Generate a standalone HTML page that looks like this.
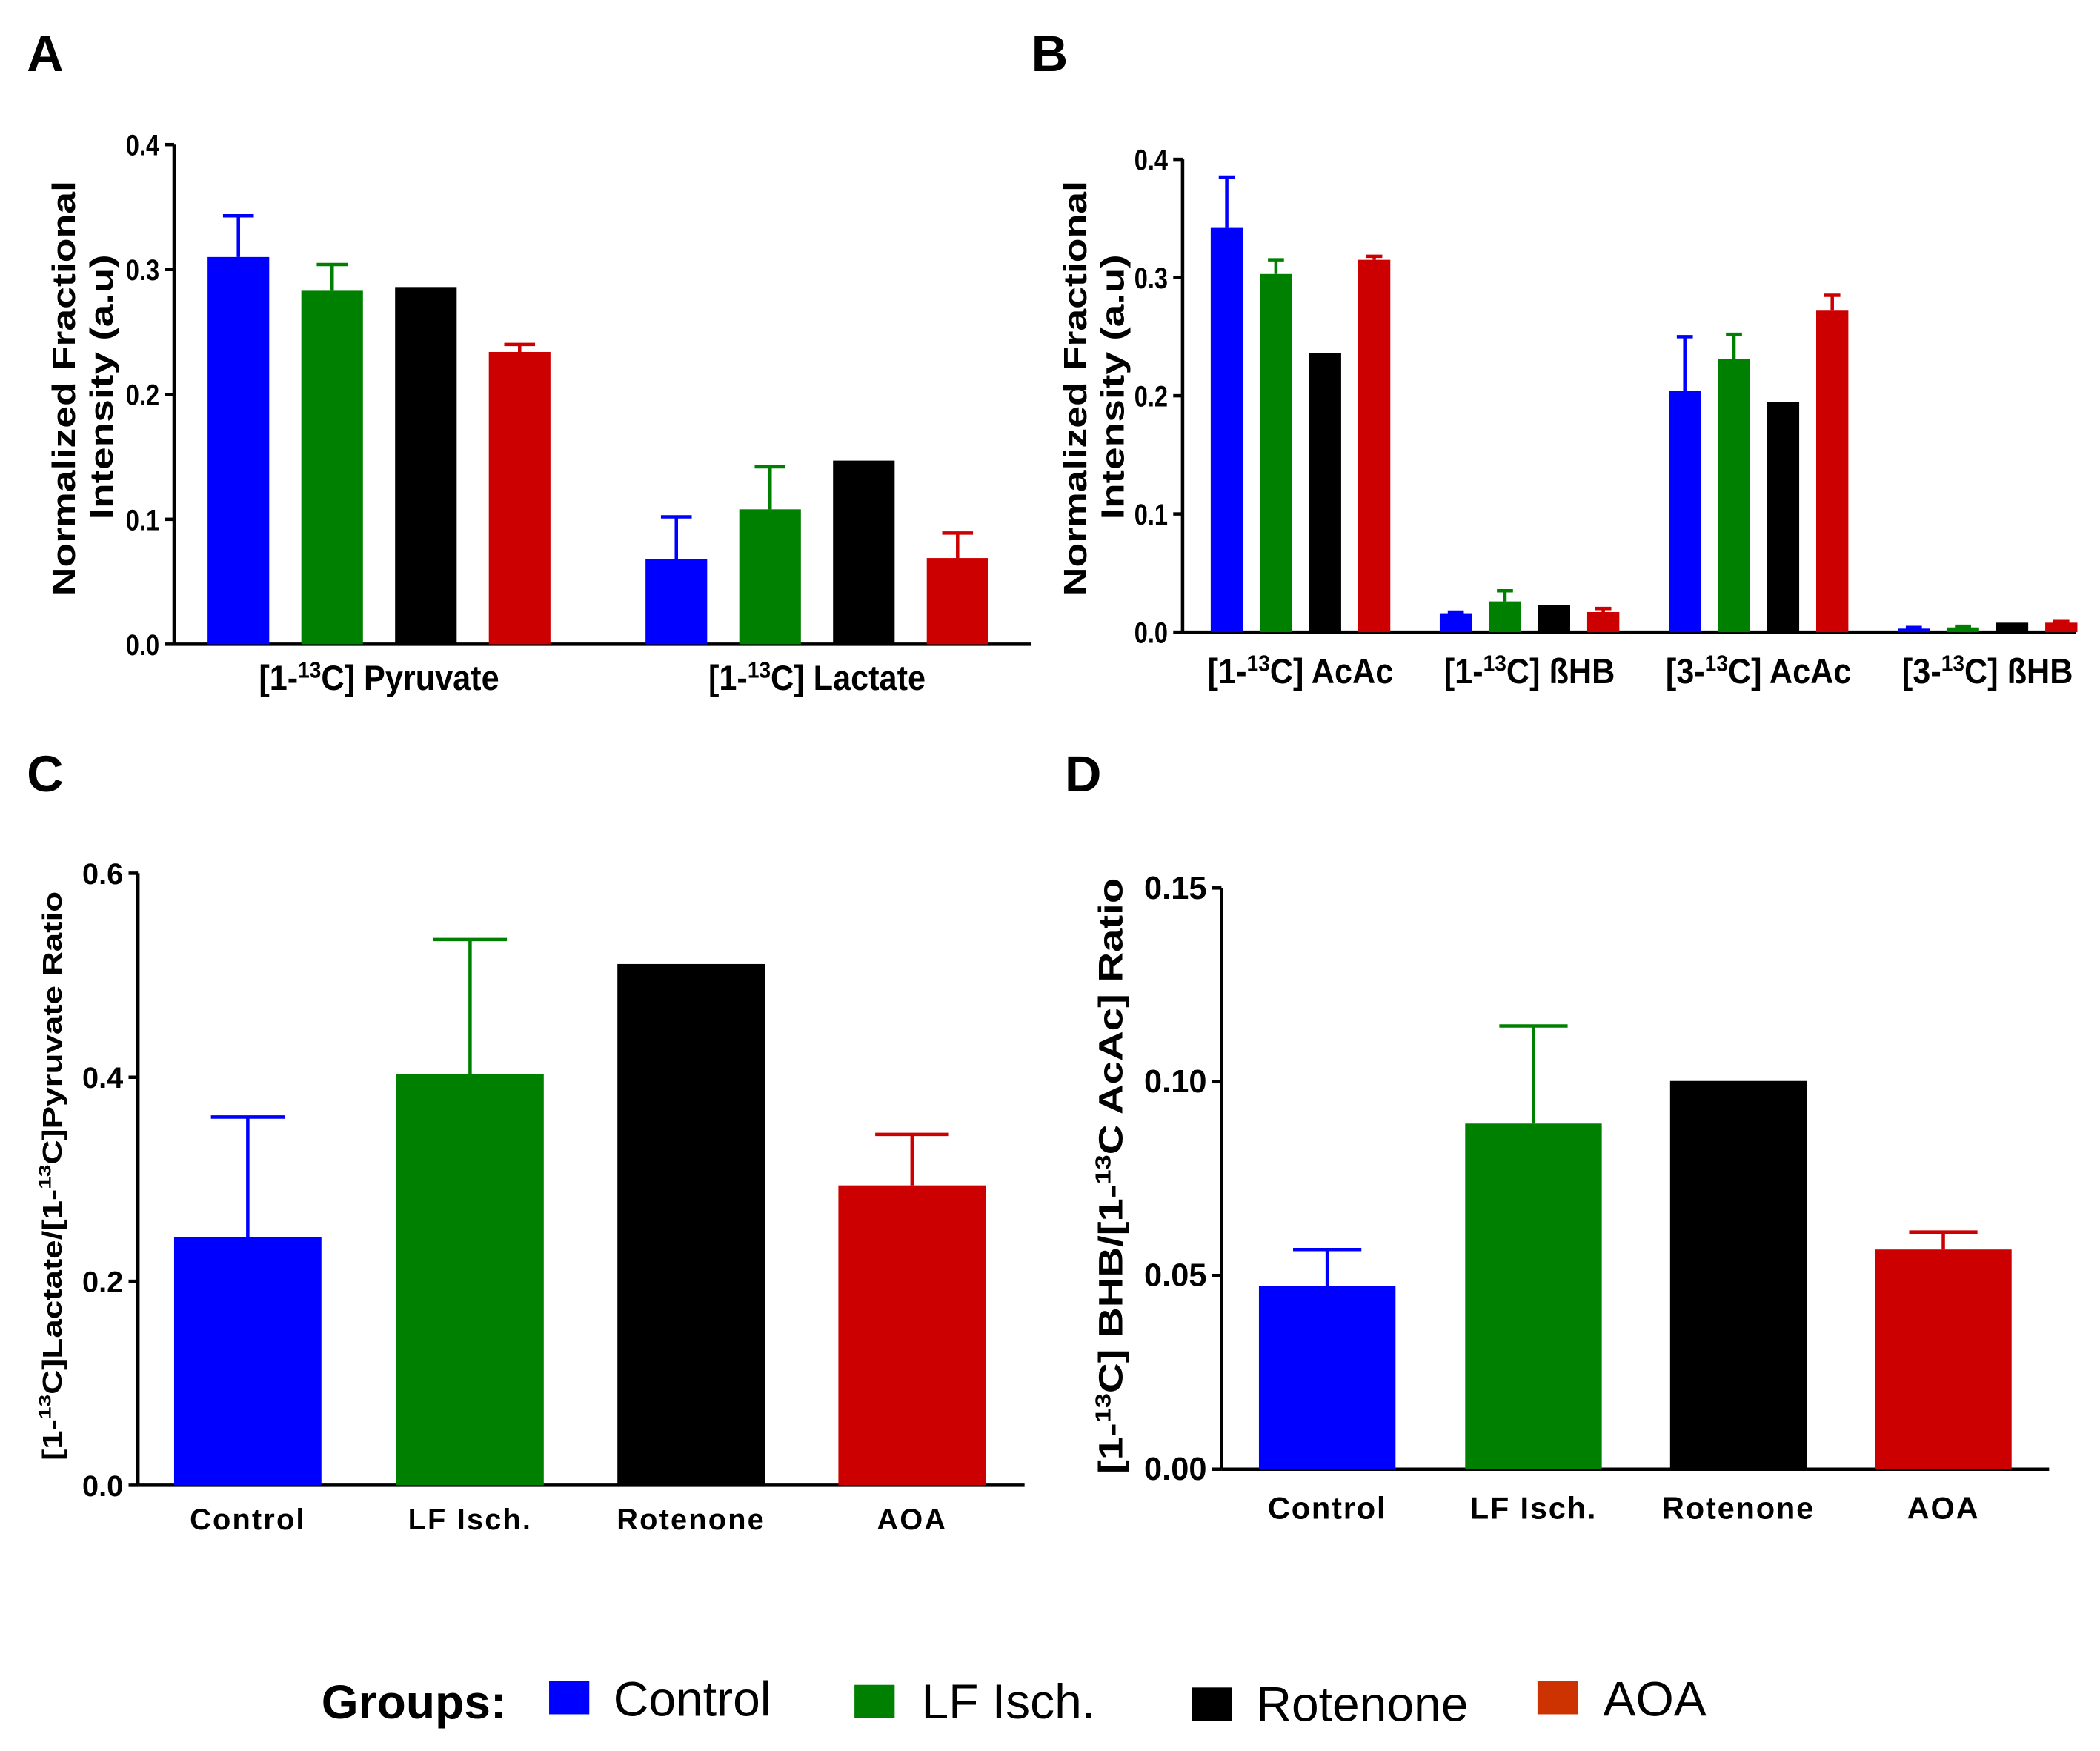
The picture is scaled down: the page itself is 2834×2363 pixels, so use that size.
<!DOCTYPE html>
<html><head><meta charset="utf-8"><style>
html,body{margin:0;padding:0;background:#fff;}
svg{display:block;font-family:"Liberation Sans",Arial,sans-serif;}
</style></head><body>
<svg id="fig" width="2834" height="2363" viewBox="0 0 1568 1307.4" preserveAspectRatio="none" xmlns="http://www.w3.org/2000/svg">
<g font-weight="bold" font-size="38">
<text x="20" y="53">A</text>
<text x="770" y="53">B</text>
<text x="20" y="591">C</text>
<text x="795" y="591">D</text>
</g>
<g font-weight="bold" font-size="24">
<text transform="translate(56,290) rotate(-90)" text-anchor="middle" textLength="310" lengthAdjust="spacingAndGlyphs">Normalized Fractional</text>
<text transform="translate(84,289) rotate(-90)" text-anchor="middle" textLength="198" lengthAdjust="spacingAndGlyphs">Intensity (a.u)</text>
<text transform="translate(811,290) rotate(-90)" text-anchor="middle" textLength="310" lengthAdjust="spacingAndGlyphs">Normalized Fractional</text>
<text transform="translate(839,289) rotate(-90)" text-anchor="middle" textLength="198" lengthAdjust="spacingAndGlyphs">Intensity (a.u)</text>
<text transform="translate(46,878) rotate(-90)" text-anchor="middle" font-size="20" textLength="425" lengthAdjust="spacingAndGlyphs">[1-<tspan dy="-8" font-size="13">13</tspan><tspan dy="8">C]Lactate/[1-</tspan><tspan dy="-8" font-size="13">13</tspan><tspan dy="8">C]Pyruvate Ratio</tspan></text>
<text transform="translate(838,878) rotate(-90)" text-anchor="middle" font-size="25" textLength="445" lengthAdjust="spacingAndGlyphs">[1-<tspan dy="-9" font-size="16">13</tspan><tspan dy="9">C] BHB/[1-</tspan><tspan dy="-9" font-size="16">13</tspan><tspan dy="9">C AcAc] Ratio</tspan></text>
</g>
<g id="legend">
<text x="240" y="1283" font-weight="bold" font-size="35.5">Groups:</text>
<rect x="410" y="1255" width="30" height="25" fill="#0000ff"/>
<text x="458" y="1281" font-size="36.5">Control</text>
<rect x="638" y="1258" width="30" height="25" fill="#008000"/>
<text x="688" y="1283" font-size="36.5">LF Isch.</text>
<rect x="890" y="1260" width="30" height="25" fill="#000"/>
<text x="938" y="1285" font-size="36.5">Rotenone</text>
<rect x="1148" y="1255" width="30" height="25" fill="#cc3300"/>
<text x="1197" y="1281" font-size="36.5">AOA</text>
</g>
</svg>
<script>
const colors = ['#0000ff','#008000','#000000','#cc0000'];
// Panel A
const aCategories = ['Pyruvate','Lactate'];
const aValues = [[0.310,0.283,0.286,0.234],[0.068,0.108,0.147,0.069]];
const aErrors = [[0.033,0.021,0,0.006],[0.034,0.034,0,0.020]];
const aTicks = ['0.0','0.1','0.2','0.3','0.4'];
// Panel B
const bCategories = ['1-AcAc','1-bHB','3-AcAc','3-bHB'];
const bValues = [[0.342,0.303,0.236,0.315],[0.016,0.026,0.023,0.017],[0.204,0.231,0.195,0.272],[0.003,0.004,0.008,0.008]];
const bErrors = [[0.043,0.012,0,0.003],[0.001,0.009,0,0.003],[0.046,0.021,0,0.013],[0.001,0.001,0,0.001]];
const bTicks = ['0.0','0.1','0.2','0.3','0.4'];
// Panel C
const cCategories = ['Control','LF Isch.','Rotenone','AOA'];
const cValues = [0.243,0.403,0.511,0.294];
const cErrors = [0.118,0.132,0,0.050];
const cTicks = ['0.0','0.2','0.4','0.6'];
// Panel D
const dCategories = ['Control','LF Isch.','Rotenone','AOA'];
const dValues = [0.0473,0.0892,0.1002,0.0567];
const dErrors = [0.0094,0.0252,0,0.0045];
const dTicks = ['0.00','0.05','0.10','0.15'];

const NS='http://www.w3.org/2000/svg';
const svg=document.getElementById('fig');
function mk(tag,attrs,parent){const e=document.createElementNS(NS,tag);for(const k in attrs)e.setAttribute(k,attrs[k]);(parent||svg).appendChild(e);return e;}

function axes(g,p,ticks,tickFont,sx){
  const yScale=v=>p.y0-(v/p.max)*(p.y0-p.yTop);
  let l=mk('line',{x1:p.x,y1:p.yTop,x2:p.x,y2:p.y0,stroke:'#000','stroke-width':2.5},g);
  
  
  l=mk('line',{x1:p.x,y1:p.y0,x2:p.xEnd,y2:p.y0,stroke:'#000','stroke-width':2.5},g);
  
  
  ticks.forEach((t,i)=>{
    const v=parseFloat(t),y=yScale(v);
    mk('line',{x1:p.x-7,y1:y,x2:p.x,y2:y,stroke:'#000','stroke-width':2.5},g);
    const ax=p.x-11;
    const tx=mk('text',{x:ax,y:y+8,'text-anchor':'end','font-weight':'bold','font-size':tickFont,transform:`translate(${ax},0) scale(${sx},1) translate(${-ax},0)`},g);
    tx.textContent=t;
    
    
  });
  return yScale;
}
function bar(g,x,w,v,e,color,yScale,y0){
  const top=yScale(v);
  const r=mk('rect',{x:x,y:top,width:w,height:y0-top,fill:color},g);
  
  
  if(e>0){
    const et=yScale(v+e),cx=x+w/2;
    const eb=mk('path',{d:`M${cx},${top} V${et} M${cx-w/4},${et} H${cx+w/4}`,stroke:color,'stroke-width':2.5,fill:'none'},g);
    
    
  }
}
function isoLabel(g,cx,y,pre,post,fs){
  const t=mk('text',{x:cx,y:y,'text-anchor':'middle','font-weight':'bold','font-size':fs,transform:`translate(${cx},0) scale(0.92,1) translate(${-cx},0)`},g);
  t.innerHTML=`${pre}<tspan dy="-9" font-size="${fs*0.65}">13</tspan><tspan dy="9">${post}</tspan>`;
  
  
}

// Panel A
(function(){
  const g=mk('g',{});
  
  
  const p={x:130,y0:481,yTop:108,max:0.4,xEnd:770};
  const ys=axes(g,p,aTicks,22,0.82);
  const groupStart=[155,482],step=70,w=46;
  aCategories.forEach((c,ci)=>{
    aValues[ci].forEach((v,j)=>bar(g,groupStart[ci]+j*step,w,v,aErrors[ci][j],colors[j],ys,p.y0));
  });
  isoLabel(g,283,515,'[1-','C] Pyruvate',26);
  isoLabel(g,610,515,'[1-','C] Lactate',26);
})();
// Panel B
(function(){
  const g=mk('g',{});
  
  
  const p={x:883,y0:472,yTop:119,max:0.4,xEnd:1550};
  const ys=axes(g,p,bTicks,22,0.82);
  const groupStart=[904,1075,1246,1417],step=36.7,w=24;
  bCategories.forEach((c,ci)=>{
    bValues[ci].forEach((v,j)=>bar(g,groupStart[ci]+j*step,w,v,bErrors[ci][j],colors[j],ys,p.y0));
  });
  isoLabel(g,971,510,'[1-','C] AcAc',26);
  isoLabel(g,1142,510,'[1-','C] ßHB',26);
  isoLabel(g,1313,510,'[3-','C] AcAc',26);
  isoLabel(g,1484,510,'[3-','C] ßHB',26);
})();
function simple(name,p,cats,vals,errs,ticks,starts,w,labY,fs,tfs,ls){
  const g=mk('g',{});
  
  
  const ys=axes(g,p,ticks,tfs,1);
  vals.forEach((v,i)=>bar(g,starts[i],w,v,errs[i],colors[i],ys,p.y0));
  cats.forEach((c,i)=>{
    const t=mk('text',{x:starts[i]+w/2,y:labY,'text-anchor':'middle','font-weight':'bold','font-size':fs,'letter-spacing':ls},g);
    t.textContent=c;
    
    
  });
}
simple('panel-c-chart',{x:103,y0:1109,yTop:652,max:0.6,xEnd:765},cCategories,cValues,cErrors,cTicks,[130,296,461,626],110,1142,22,22,1.2);
simple('panel-d-chart',{x:912,y0:1097,yTop:663,max:0.15,xEnd:1530},dCategories,dValues,dErrors,dTicks,[940,1094,1247,1400],102,1134,23,24,1);
</script>
</body></html>
